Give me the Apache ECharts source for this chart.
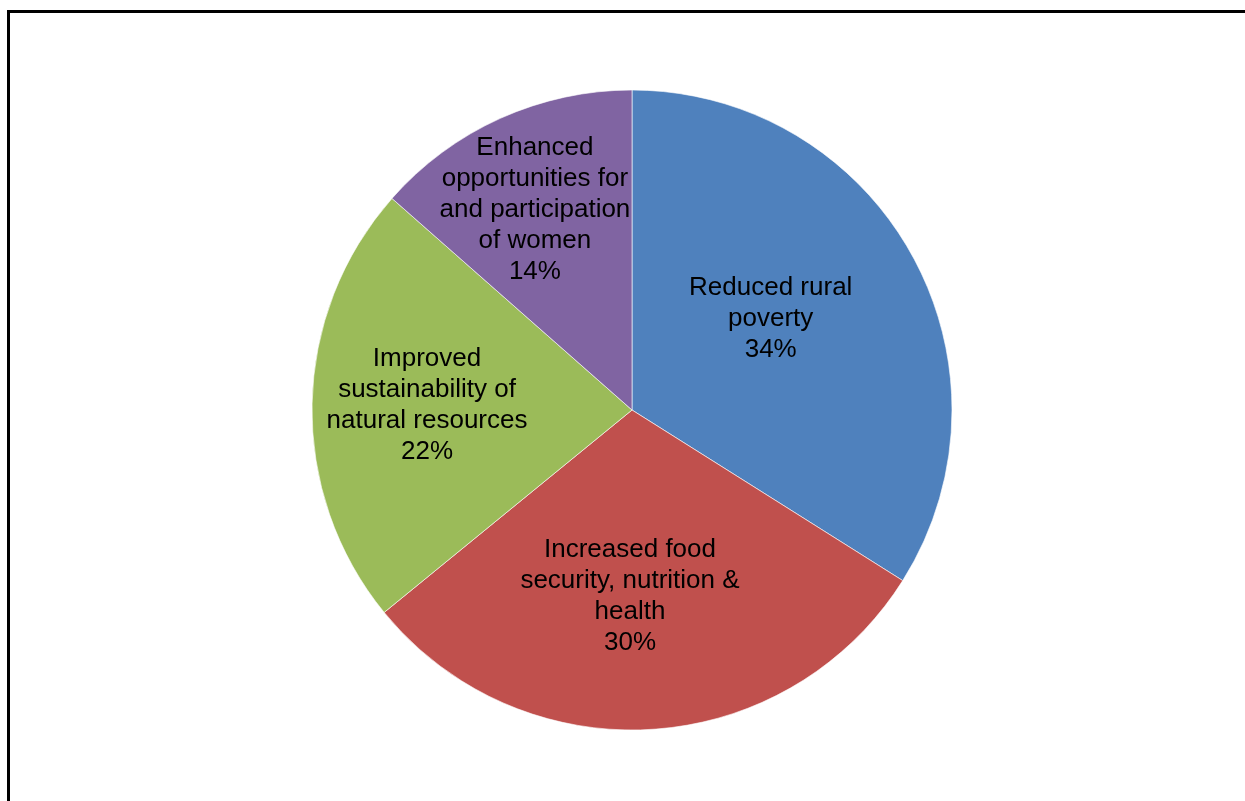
<!DOCTYPE html>
<html>
<head>
<meta charset="utf-8">
<script src="https://cdn.jsdelivr.net/npm/echarts@6/dist/echarts.min.js"></script>
<style>
html,body{margin:0;padding:0;background:#fff;}
#chart{width:1245px;height:801px;}
</style>
</head>
<body>
<div id="chart"></div>
<script>
var categories = [
  "Reduced rural\npoverty",
  "Increased food\nsecurity, nutrition &\nhealth",
  "Improved\nsustainability of\nnatural resources",
  "Enhanced\nopportunities for\nand participation\nof women"
];
// shares in percent (slice sizes; labels show them rounded)
var values = [33.95, 30.15, 22.4, 13.5];
var colors = ["#4F81BD", "#C0504D", "#9BBB59", "#8064A2"];
var labelOffsets = [[-4, -12], [-12, 24], [-42, -2], [-30, -52]];

var chart = echarts.init(document.getElementById('chart'));
chart.setOption({
  animation: false,
  graphic: [{
    type: 'rect',
    shape: {x: 8.5, y: 11.5, width: 1300, height: 900},
    style: {fill: 'none', stroke: '#000', lineWidth: 3}
  }],
  series: [{
    type: 'pie',
    center: [632, 410],
    radius: [0, 320],
    startAngle: 90,
    clockwise: true,
    avoidLabelOverlap: false,
    itemStyle: {borderColor: 'rgba(255,255,255,0.6)', borderWidth: 1},
    label: {
      show: true,
      position: 'inside',
      color: '#000',
      fontFamily: 'Liberation Sans, Arial, sans-serif',
      fontSize: 26,
      lineHeight: 31,
      align: 'center',
      formatter: function (p) { return p.name + '\n' + Math.round(p.value) + '%'; }
    },
    labelLine: {show: false},
    emphasis: {disabled: true},
    data: categories.map(function (c, i) {
      return {
        name: c,
        value: values[i],
        itemStyle: {color: colors[i]},
        label: {offset: labelOffsets[i]}
      };
    })
  }]
});
</script>
</body>
</html>
